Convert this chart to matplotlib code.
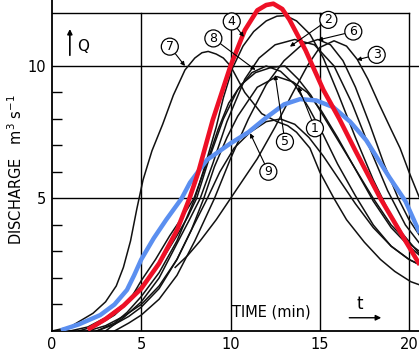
import matplotlib
matplotlib.use('Agg')
import matplotlib.pyplot as plt

# --- values (time in min, discharge in m3/s) ---
red_t = [2.0, 3.0, 4.0, 5.0, 6.0, 7.0, 7.7, 8.2, 9.0, 10.0, 10.8, 11.5, 12.0, 12.4, 12.9, 13.3, 14.2, 15.2, 16.1, 17.0, 18.4, 19.8, 20.6]
red_q = [0.05, 0.45, 0.95, 1.6, 2.55, 3.8, 5.0, 6.0, 7.95, 10.0, 11.35, 12.1, 12.3, 12.35, 12.15, 11.75, 10.6, 9.1, 8.0, 6.8, 5.0, 3.4, 2.5]

blue_t = [0.5, 1.5, 2.7, 3.5, 4.2, 4.6, 5.0, 5.7, 6.4, 7.26, 7.73, 8.67, 10.0, 11.0, 12.0, 13.0, 13.9, 14.8, 15.75, 16.7, 17.6, 18.9, 19.8, 20.6]
blue_q = [0.03, 0.25, 0.6, 1.0, 1.55, 2.1, 2.7, 3.5, 4.2, 5.0, 5.6, 6.45, 7.08, 7.5, 8.05, 8.55, 8.75, 8.7, 8.45, 7.9, 7.2, 5.8, 4.9, 3.7]

c1_t = [1.5, 2.5, 3.5, 4.3, 5.0, 5.8, 6.6, 7.3, 7.95, 8.6, 9.3, 9.9, 10.6, 11.4, 12.3, 13.05, 13.8, 14.5, 15.3, 16.2, 17.1, 18.0, 19.0, 20.0, 20.6]
c1_q = [0.0, 0.2, 0.6, 1.1, 1.9, 2.7, 3.6, 4.3, 5.0, 6.2, 7.6, 8.6, 9.3, 9.75, 9.95, 10.0, 9.5, 8.9, 8.0, 7.0, 6.0, 5.0, 4.0, 3.3, 3.0]

c2_t = [3.0, 4.0, 5.0, 6.0, 7.0, 7.7, 8.3, 9.0, 9.8, 10.8, 11.6, 12.5, 13.6, 14.7, 15.8, 16.8, 17.8, 18.8, 19.8, 20.6]
c2_q = [0.0, 0.5, 1.1, 2.0, 3.3, 4.2, 5.0, 6.3, 7.9, 9.5, 10.3, 10.8, 11.0, 10.8, 10.0, 8.6, 6.9, 5.3, 4.0, 3.3]

c3_t = [6.9, 7.6, 8.3, 9.2, 10.0, 10.8, 11.5, 12.5, 13.5, 14.3, 15.0, 15.8, 16.5, 17.1, 17.7, 18.3, 19.0, 19.5, 20.0, 20.6]
c3_q = [2.4, 2.85, 3.4, 4.2, 5.0, 5.8, 6.5, 7.7, 9.0, 10.0, 10.7, 10.95, 10.75, 10.25, 9.5, 8.6, 7.6, 6.9, 6.0, 5.0]

c4_t = [2.5, 3.5, 4.2, 5.0, 6.0, 7.0, 8.0, 8.6, 9.2, 9.6, 10.1, 10.7, 11.3, 12.0, 12.6, 13.1, 13.7, 14.45, 15.2, 16.0, 17.0, 18.0, 18.8, 19.6, 20.6]
c4_q = [0.0, 0.3, 0.7, 1.3, 2.2, 3.4, 5.0, 6.3, 7.7, 8.8, 9.9, 10.75, 11.3, 11.7, 11.88, 11.9, 11.7, 11.2, 10.3, 9.0, 7.3, 5.7, 4.6, 3.7, 2.9]

c5_t = [2.5, 3.5, 4.3, 5.0, 6.0, 7.0, 7.8, 8.5, 9.1, 9.8, 10.4, 11.5, 12.6, 13.5, 14.3, 15.1, 16.0, 17.0, 18.0, 19.0, 20.0, 20.6]
c5_q = [0.0, 0.25, 0.55, 0.9, 1.6, 2.7, 3.8, 5.0, 6.2, 7.3, 8.1, 9.2, 9.6, 9.4, 9.0, 8.3, 7.3, 6.1, 4.9, 3.9, 3.2, 2.85]

c6_t = [3.5, 4.3, 5.0, 6.0, 7.0, 8.0, 9.1, 10.0, 11.0, 12.0, 13.0, 14.0, 14.9, 15.6, 16.3, 17.0, 17.8, 18.6, 19.4, 20.0, 20.6]
c6_q = [0.0, 0.3, 0.6, 1.2, 2.1, 3.4, 5.0, 6.5, 8.0, 9.3, 10.2, 10.8, 11.0, 10.8, 10.2, 9.2, 7.8, 6.3, 5.0, 4.2, 3.6]

c7_t = [0.0, 1.0, 2.3, 3.0, 3.6, 4.0, 4.4, 4.75, 5.1, 5.6, 6.2, 6.8, 7.45, 8.0, 8.4, 8.75, 9.2, 9.6, 10.0, 10.8, 11.75, 12.6, 13.2, 13.7, 14.45, 15.0, 15.8, 16.5, 17.5, 18.4, 19.2, 20.1, 20.6]
c7_q = [0.0, 0.15, 0.67, 1.1, 1.7, 2.4, 3.4, 4.6, 5.7, 6.8, 7.8, 8.9, 9.85, 10.3, 10.5, 10.55, 10.45, 10.3, 10.0, 9.0, 8.2, 7.9, 7.75, 7.5, 6.9, 6.0, 5.0, 4.2, 3.35, 2.7, 2.25, 1.86, 1.74]

c8_t = [1.0, 2.0, 3.0, 4.0, 5.0, 6.0, 7.0, 7.6, 8.1, 8.8, 9.6, 10.4, 11.2, 12.0, 12.8, 13.6, 14.4, 15.2, 16.0, 17.0, 18.0, 19.0, 20.0, 20.6]
c8_q = [0.0, 0.15, 0.5, 1.0, 1.7, 2.5, 3.6, 4.3, 5.0, 6.5, 8.0, 9.1, 9.75, 10.0, 9.8, 9.3, 8.4, 7.4, 6.3, 5.1, 4.0, 3.2, 2.7, 2.5]

c9_t = [2.0, 3.0, 4.0, 5.0, 6.0, 7.0, 7.8, 8.7, 9.4, 10.2, 11.1, 12.0, 12.8, 13.6, 14.4, 15.2, 16.0, 17.0, 18.0, 19.0, 20.0, 20.6]
c9_q = [0.0, 0.2, 0.55, 1.0, 1.7, 2.7, 3.8, 5.0, 6.0, 6.9, 7.5, 7.9, 8.0, 7.8, 7.3, 6.6, 5.8, 4.8, 3.9, 3.2, 2.7, 2.5]

# circled curve numbers: label position, arrow tip
labels = ['1', '2', '3', '4', '5', '6', '7', '8', '9']
label_xy = [(14.73, 7.65), (15.48, 11.74), (18.19, 10.42), (10.07, 11.68), (13.05, 7.14),
            (16.88, 11.3), (6.6, 10.73), (9.04, 11.04), (12.12, 6.01)]
tip_xy = [(13.8, 9.22), (13.33, 10.73), (17.07, 10.23), (10.75, 11.1), (12.5, 9.66),
          (14.9, 10.98), (7.45, 10.0), (11.4, 9.85), (11.1, 7.46)]

x_ticks = [0, 5, 10, 15, 20]
y_ticks = [5, 10]
y_minor = [1, 2, 3, 4, 6, 7, 8, 9]

fig = plt.figure(figsize=(4.19, 3.52), dpi=100)
ax = fig.add_axes([52 / 419, 21 / 352, 367 / 419, 331 / 352])
ax.set_xlim(0, 20.56)
ax.set_ylim(0, 12.49)

# frame / grid like the old drawing
for x in x_ticks[1:]:
    ax.plot([x, x], [0, 12], color='k', lw=1.0, zorder=1)
ax.plot([0, 20], [12, 12], color='k', lw=1.0, zorder=1)
for y in y_ticks:
    ax.axhline(y, color='k', lw=1.0, zorder=1)

for s in ['top', 'right']:
    ax.spines[s].set_visible(False)
ax.spines['left'].set_linewidth(1.3)
ax.spines['bottom'].set_linewidth(1.3)

black = [(c1_t, c1_q), (c2_t, c2_q), (c3_t, c3_q), (c4_t, c4_q), (c5_t, c5_q),
         (c6_t, c6_q), (c7_t, c7_q), (c8_t, c8_q), (c9_t, c9_q)]
for t, q in black:
    ax.plot(t, q, color='#111111', lw=1.1, zorder=2, solid_joinstyle='round')

ax.plot(blue_t, blue_q, color='#5b8ff0', lw=3.2, zorder=3,
        solid_capstyle='butt', solid_joinstyle='round')
ax.plot(red_t, red_q, color='#ee1026', lw=3.3, zorder=4,
        solid_capstyle='butt', solid_joinstyle='round')

for lab, p, tip in zip(labels, label_xy, tip_xy):
    ax.annotate(lab, xy=tip, xytext=p, ha='center', va='center', fontsize=9, zorder=5,
                bbox=dict(boxstyle='circle,pad=0.16', fc='white', ec='k', lw=0.9),
                arrowprops=dict(arrowstyle='-|>', color='k', lw=0.8, mutation_scale=6,
                                shrinkA=0, shrinkB=0))

ax.set_xticks(x_ticks)
ax.set_yticks(y_ticks)
ax.set_yticks(y_minor, minor=True)
ax.tick_params(axis='x', length=0, pad=4, labelsize=10.5)
ax.tick_params(axis='y', which='major', length=0, pad=4, labelsize=10.5)
ax.tick_params(axis='y', which='minor', direction='in', length=7, width=1.0)

ax.set_ylabel('DISCHARGE   m$^3$ s$^{-1}$', fontsize=10.5)
ax.yaxis.set_label_coords(-0.073, 6.1 / 12.49)

ax.text(10.1, 0.72, 'TIME (min)', fontsize=10.5, va='center', ha='left')
ax.text(17.25, 1.0, 't', fontsize=12, va='center', ha='center')
ax.annotate('', xy=(18.6, 0.5), xytext=(16.5, 0.5),
            arrowprops=dict(arrowstyle='-|>', color='k', lw=1.0, mutation_scale=8))
ax.text(1.75, 10.75, 'Q', fontsize=11, va='center', ha='center')
ax.annotate('', xy=(1.0, 11.5), xytext=(1.0, 10.3),
            arrowprops=dict(arrowstyle='-|>', color='k', lw=1.2, mutation_scale=7))

fig.savefig('out.png', dpi=100)
